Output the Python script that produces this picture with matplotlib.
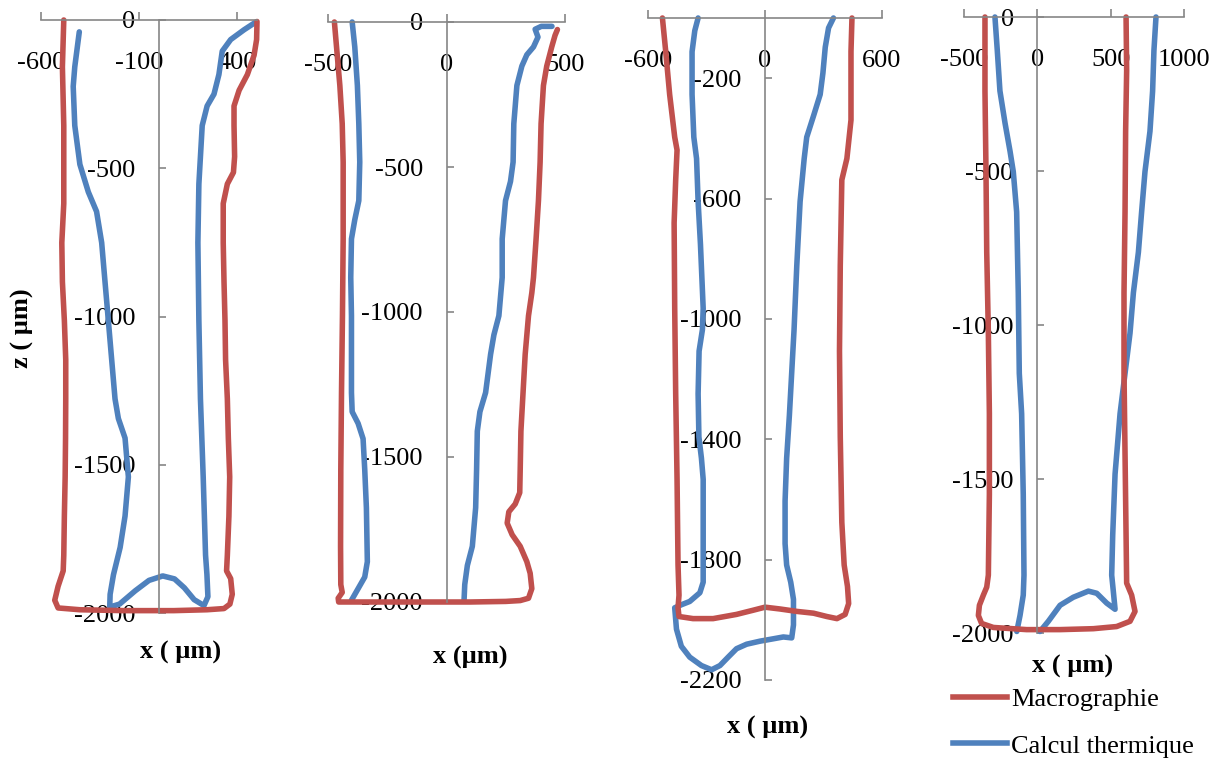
import matplotlib
matplotlib.use('Agg')
import matplotlib.pyplot as plt
from matplotlib.lines import Line2D
import numpy as np

plt.rcParams['font.family'] = ['Liberation Serif', 'DejaVu Serif']
plt.rcParams['axes.unicode_minus'] = False

RED = '#C0504D'
BLUE = '#4F81BD'
GRAY = '#868686'
nan = np.nan

# ---------------- Panel 1 ----------------
p1_macro_x = [-484, -491, -484, -484, -494, -491, -481, -474, -474, -475, -477, -481, -484, -487,
              -513, -530, -513, -402, -180, 76, 246, 332, 362, 374, 366, 345, 349, 357, 361, 354,
              349, 340, 337, 332, 328, 328, 349, 380, 386, 383, 383, 409, 451, 485, 498, 500]
p1_macro_z = [0, -158, -356, -619, -751, -883, -1014, -1146, -1278, -1410, -1541, -1673, -1805, -1858,
              -1910, -1957, -1983, -1989, -1992, -1992, -1989, -1985, -1970, -1937, -1884, -1858, -1805, -1673, -1541, -1410,
              -1278, -1146, -1014, -883, -751, -619, -553, -514, -461, -356, -290, -237, -184, -119, -66, -5]
p1_calc_x = [-405, -428, -436, -428, -402, -359, -317, -291, -274, -257, -240, -223, -206, -172, -155,
             -172, -197, -231, -248, -250, -200, -120, -50, 20, 80, 130, 180, 230, 250, 245, 238,
             226, 212, 204, 199, 204, 221, 246, 281, 306, 323, 366, 434, 494]
p1_calc_z = [-40, -158, -224, -356, -487, -580, -646, -751, -883, -1014, -1146, -1278, -1344, -1410, -1541,
             -1673, -1779, -1871, -1937, -1980, -1970, -1925, -1890, -1875, -1885, -1915, -1955, -1975, -1945, -1870, -1805,
             -1541, -1278, -1014, -751, -553, -356, -290, -250, -184, -105, -66, -33, -7]

# ---------------- Panel 2 ----------------
p2_macro_x = [-473, -464, -450, -440, -436, -436, -439, -443, -446, -447, -446, -440, -457, -455,
              -300, -100, 100, 250, 311, 346, 360, 353, 339, 311, 277, 256, 263, 290, 309, 311,
              314, 323, 332, 346, 360, 367, 378, 388, 395, 399, 409, 423, 444, 458, 468]
p2_macro_z = [0, -86, -219, -351, -483, -748, -1013, -1278, -1543, -1808, -1940, -1967, -1987, -2000,
              -2000, -2000, -2000, -1998, -1995, -1987, -1954, -1901, -1861, -1808, -1768, -1728, -1689, -1662, -1623, -1543,
              -1411, -1278, -1146, -1013, -934, -881, -748, -616, -483, -351, -219, -152, -86, -46, -26]
p2_calc_x = [-398, -387, -376, -370, -366, -370, -387, -401, -404, -401, -401, -401, -398, -373, -352,
             -345, -338, -334, -345, -373, -401, nan,
             74, 77, 88, 109, 123, 127, 130, 141, 165, 186, 200, 221, 235, 235, 249, 270, 281, 284,
             297, 318, 339, 367, 386, 374, 400, 445]
p2_calc_z = [0, -86, -219, -351, -483, -616, -682, -748, -881, -1013, -1146, -1278, -1344, -1384, -1437,
             -1543, -1675, -1861, -1914, -1954, -1994, nan,
             -1995, -1940, -1874, -1808, -1675, -1543, -1411, -1344, -1278, -1146, -1079, -1013, -881, -748, -616, -550, -483, -351,
             -219, -152, -113, -86, -52, -25, -15, -15]

# ---------------- Panel 3 ----------------
p3_macro_x = [-526, -509, -489, -463, -451, -458, -466, -463, -458, -451, -446, -441, -446, -441,
              -369, -266, -146, -60, 0, 77, 163, 249, 317, 369, 411, 429, 423, 406, 394, 386,
              382, 386, 394, 420, 441, 441, 441, 446]
p3_macro_z = [0, -112, -254, -396, -439, -538, -681, -965, -1249, -1533, -1818, -1918, -1960, -1989,
              -1996, -1996, -1982, -1968, -1958, -1964, -1972, -1978, -1989, -1996, -1982, -1946, -1889, -1818, -1676, -1392,
              -1107, -823, -538, -467, -339, -254, -111, 0]
p3_calc_x = [-343, -360, -374, -374, -365, -351, -343, -331, -317, -321, -338, -343, -339, -326, -317,
             -317, -317, -334, -386, -429, -463, -454, -429, -386, -326, -274, -231, -189, -146, -94,
             -26, 43, 94, 137, 146, 146, 132, 111, 103, 103, 111, 125, 137, 149, 163, 180, 201, 214,
             249, 283, 297, 309, 326, 351]
p3_calc_z = [0, -42, -112, -254, -396, -467, -610, -752, -965, -1036, -1107, -1249, -1392, -1463, -1533,
             -1676, -1875, -1910, -1939, -1950, -1960, -2031, -2088, -2124, -2152, -2166, -2152, -2124, -2096, -2081,
             -2071, -2063, -2057, -2060, -2017, -1932, -1875, -1818, -1747, -1605, -1463, -1321, -1178, -1036, -823, -610, -467, -396,
             -325, -254, -183, -97, -33, 0]

# ---------------- Panel 4 ----------------
p4_macro_x = [-357, -357, -350, -345, -334, -327, -327, -334, -345, -368, -395, -402, -380, -300,
              -73, 155, 382, 541, 632, 666, 643, 609, 605, 598, 591, 591, 598, 602, 609, 605]
p4_macro_z = [0, -240, -502, -764, -1026, -1288, -1550, -1812, -1851, -1877, -1910, -1943, -1969, -1982,
              -1989, -1989, -1986, -1979, -1962, -1930, -1877, -1838, -1681, -1419, -1157, -895, -633, -371, -174, 0]
p4_calc_x = [-289, -273, -255, -220, -186, -164, -141, -130, -123, -107, -96, -91, -96, -118, -140, nan,
             18, 75, 155, 245, 348, 405, 473, 530, 518, 507, 514, 530, 564, 598, 632, 655, 689, 711,
             734, 768, 786, 795, 809]
p4_calc_z = [0, -109, -240, -345, -436, -502, -633, -895, -1157, -1288, -1550, -1812, -1877, -1943, -1995, nan,
             -1995, -1962, -1910, -1884, -1864, -1871, -1903, -1923, -1864, -1812, -1681, -1484, -1288, -1157, -1026, -895, -764, -633,
             -502, -371, -240, -109, 0]

# axis settings
p1_xticks = [-600, -100, 400]
p2_xticks = [-500, 0, 500]
p3_xticks = [-600, 0, 600]
p4_xticks = [-500, 0, 500, 1000]
p1_yticks = [0, -500, -1000, -1500, -2000]
p2_yticks = [0, -500, -1000, -1500, -2000]
p3_yticks = [-200, -600, -1000, -1400, -1800, -2200]
p4_yticks = [0, -500, -1000, -1500, -2000]

series_labels = ['Macrographie', 'Calcul thermique']
xlabels = ['x ( µm)', 'x (µm)', 'x ( µm)', 'x ( µm)']
ylabel = 'z ( µm)'

W, H = 1222, 760
fig = plt.figure(figsize=(W / 100, H / 100), dpi=100)

def rect(x0, x1, y0, y1):
    return [x0 / W, 1 - y1 / H, (x1 - x0) / W, (y1 - y0) / H]

panels = [
    dict(rect=rect(41, 257, 20, 613), xlim=(-600, 500), ylim=(-2000, 0), xt=p1_xticks, yt=p1_yticks,
         mx=p1_macro_x, mz=p1_macro_z, cx=p1_calc_x, cz=p1_calc_z, xl=xlabels[0], xlpos=(0.644, -0.067)),
    dict(rect=rect(328, 565, 22, 602), xlim=(-500, 500), ylim=(-2000, 0), xt=p2_xticks, yt=p2_yticks,
         mx=p2_macro_x, mz=p2_macro_z, cx=p2_calc_x, cz=p2_calc_z, xl=xlabels[1], xlpos=(0.599, -0.095)),
    dict(rect=rect(648, 882, 18, 680), xlim=(-600, 600), ylim=(-2200, 0), xt=p3_xticks, yt=p3_yticks,
         mx=p3_macro_x, mz=p3_macro_z, cx=p3_calc_x, cz=p3_calc_z, xl=xlabels[2], xlpos=(0.513, -0.071)),
    dict(rect=rect(964, 1184, 17, 633), xlim=(-500, 1000), ylim=(-2000, 0), xt=p4_xticks, yt=p4_yticks,
         mx=p4_macro_x, mz=p4_macro_z, cx=p4_calc_x, cz=p4_calc_z, xl=xlabels[3], xlpos=(0.495, -0.054)),
]

FS = 19
LW = 4.0
axes = []
for i, p in enumerate(panels):
    ax = fig.add_axes(p['rect'])
    ax.patch.set_visible(False)
    ax.plot(p['cx'], p['cz'], color=BLUE, lw=LW, solid_joinstyle='round', solid_capstyle='round',
            zorder=2.0, clip_on=False)
    ax.plot(p['mx'], p['mz'], color=RED, lw=LW, solid_joinstyle='round', solid_capstyle='round',
            zorder=2.1, clip_on=False)
    ax.set_xlim(*p['xlim'])
    ax.set_ylim(*p['ylim'])
    for s in ['right', 'bottom']:
        ax.spines[s].set_visible(False)
    ax.spines['left'].set_position(('data', 0))
    for s in ['left', 'top']:
        ax.spines[s].set_color(GRAY)
        ax.spines[s].set_linewidth(1.2)
    ax.xaxis.set_ticks_position('top')
    ax.yaxis.set_ticks_position('left')
    ax.set_xticks(p['xt'])
    ax.set_yticks(p['yt'])
    ax.tick_params(axis='x', direction='out', length=6, width=1.2, color=GRAY, pad=-45,
                   labelsize=FS, labeltop=True, labelbottom=False)
    ax.tick_params(axis='y', direction='in', length=5, width=1.2, color=GRAY, pad=17, labelsize=FS)
    ax.set_xlabel(p['xl'], fontsize=FS, fontweight='bold')
    ax.xaxis.set_label_coords(*p['xlpos'])
    ax.xaxis.label.set_verticalalignment('center')
    axes.append(ax)

axes[0].set_ylabel(ylabel, fontsize=FS, fontweight='bold')
axes[0].yaxis.set_label_coords(-0.088, 0.48)
axes[0].yaxis.label.set_verticalalignment('center')

handles = [Line2D([], [], color=RED, lw=LW), Line2D([], [], color=BLUE, lw=LW)]
fig.legend(handles, series_labels, loc='upper left', bbox_to_anchor=(953 / W, 1 - 688 / H),
           frameon=False, fontsize=FS, handlelength=2.05, handletextpad=0.15, labelspacing=0.86,
           borderpad=0, borderaxespad=0)

fig.savefig('out.png', dpi=100)
